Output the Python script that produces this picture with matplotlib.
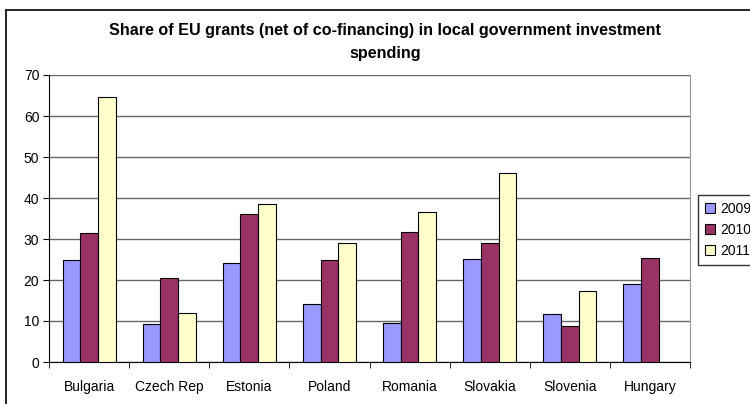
import numpy as np
import matplotlib
matplotlib.use('Agg')
import matplotlib.pyplot as plt
from matplotlib.patches import Rectangle

countries = ['Bulgaria', 'Czech Rep', 'Estonia', 'Poland', 'Romania', 'Slovakia', 'Slovenia', 'Hungary']
y2009 = [25.0, 9.2, 24.2, 14.1, 9.5, 25.1, 11.7, 19.0]
y2010 = [31.5, 20.4, 36.0, 25.0, 31.8, 29.0, 8.8, 25.3]
y2011 = [64.7, 12.0, 38.5, 29.0, 36.7, 46.0, 17.2, np.nan]
years = ['2009', '2010', '2011']
colors = ['#9999FF', '#993366', '#FFFFCC']

plt.rcParams['font.family'] = ['Liberation Sans', 'DejaVu Sans']

fig = plt.figure(figsize=(7.5, 4.04), dpi=100)
ax = fig.add_axes([49/750, 1-362/404, (690-49)/750, (362-75)/404])

x = np.arange(len(countries))
w = 0.22
for i, (vals, lab, c) in enumerate(zip([y2009, y2010, y2011], years, colors)):
    ax.bar(x + (i-1)*w, vals, width=w, color=c, edgecolor='black', linewidth=0.8, label=lab, zorder=3)

ax.set_xlim(-0.5, len(countries)-0.5)
ax.set_ylim(0, 70)
ax.set_yticks(np.arange(0, 71, 10))
ax.yaxis.grid(True, color='#666666', linewidth=1, zorder=0)
ax.set_xticks(x)
ax.set_xticklabels(countries, fontsize=10)
ax.tick_params(axis='x', length=0, pad=13)
ax.set_xticks(np.arange(-0.5, len(countries), 1), minor=True)
ax.tick_params(axis='x', which='minor', length=4, direction='out', color='black')
ax.tick_params(axis='y', length=4, direction='out', labelsize=10, pad=3)
ax.spines['top'].set_visible(False)
ax.spines['right'].set_color('#999999')
ax.spines['left'].set_color('black')
ax.spines['bottom'].set_color('black')

fig.text(385/750, 1-42/404, 'Share of EU grants (net of co-financing) in local government investment\nspending',
         ha='center', va='center', fontsize=11.6, fontweight='bold', linespacing=1.6)

leg = fig.legend(loc='upper left', bbox_to_anchor=(698/750, 1-195/404), fontsize=10,
                 frameon=True, fancybox=False, edgecolor='black', handlelength=0.7, handleheight=0.7,
                 handletextpad=0.4, borderaxespad=0, borderpad=0.5, labelspacing=0.5)
leg.get_frame().set_linewidth(1)

fig.add_artist(Rectangle((6/750, -0.1), 1.0, 1.1-10/404, transform=fig.transFigure,
                         fill=False, edgecolor='black', linewidth=1.2))

fig.savefig('out.png', dpi=100)
